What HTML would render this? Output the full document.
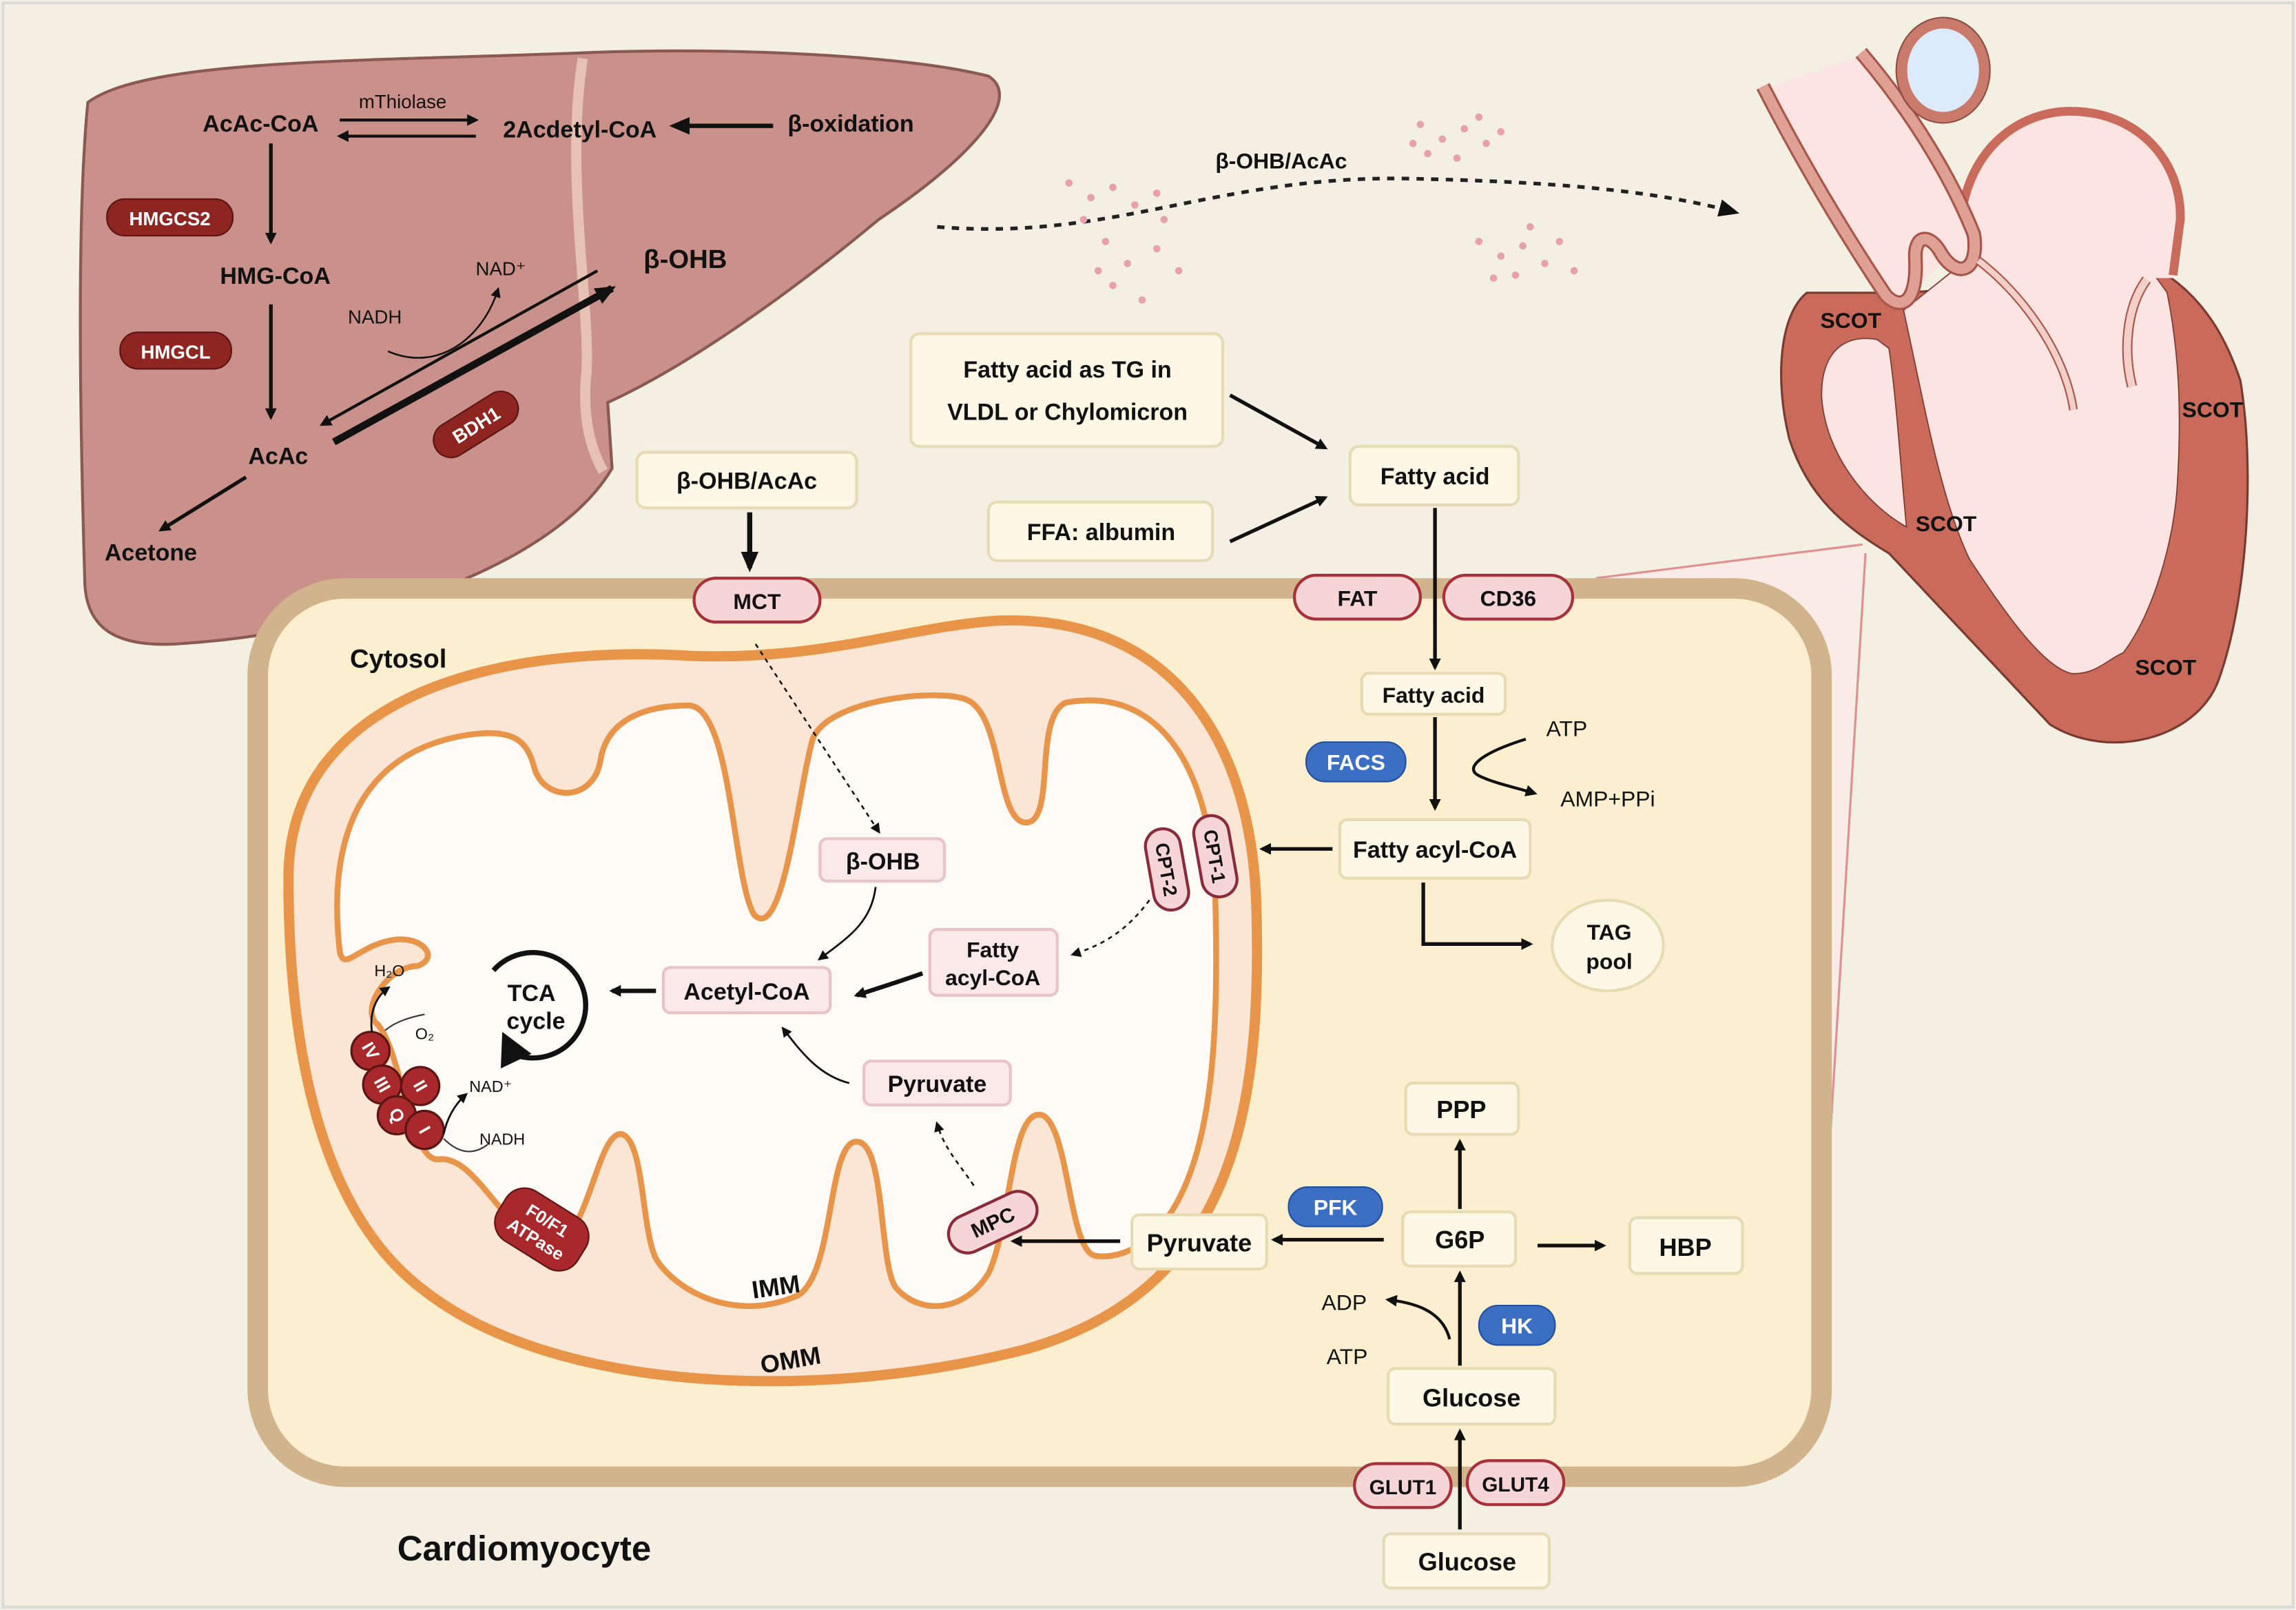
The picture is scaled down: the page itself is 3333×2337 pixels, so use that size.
<!DOCTYPE html>
<html><head><meta charset="utf-8"><style>
html,body{margin:0;padding:0;background:#f3efe3}
svg{display:block}
text{font-family:"Liberation Sans",sans-serif;fill:#111}
.b{font-weight:bold}
</style></head><body>
<svg width="3333" height="2337" viewBox="0 0 1568 1100" preserveAspectRatio="none" xmlns="http://www.w3.org/2000/svg">
<defs>
<marker id="ah" markerWidth="8" markerHeight="8" refX="6" refY="4" orient="auto" markerUnits="userSpaceOnUse"><path d="M0,0 L8,4 L0,8 Z" fill="#111"/></marker>
<marker id="ahL" markerWidth="14" markerHeight="12" refX="11" refY="6" orient="auto" markerUnits="userSpaceOnUse"><path d="M0,0 L14,6 L0,12 Z" fill="#111"/></marker>
<marker id="ahS" markerWidth="7" markerHeight="7" refX="5" refY="3.5" orient="auto" markerUnits="userSpaceOnUse"><path d="M0,0 L7,3.5 L0,7 Z" fill="#111"/></marker>
</defs>
<rect x="0" y="0" width="1568" height="1100" fill="#f3efe3"/>
<rect x="2" y="2" width="1564" height="1096" fill="none" stroke="#dcdcd6" stroke-width="2"/>

<!-- Liver -->
<path d="M60,70 C100,40 250,42 400,36 C500,32 620,38 675,52 C700,68 660,110 600,150 C540,200 470,250 415,275 L418,320 C380,385 250,432 120,440 C80,442 60,430 58,400 C55,300 52,150 60,70 Z" fill="#c9918a" stroke="#8a5a52" stroke-width="2"/>
<path d="M398,40 C385,120 405,220 400,260 C398,290 405,310 412,322" fill="none" stroke="#e6c2b2" stroke-width="7"/>
<text x="178" y="90" class="b" font-size="16" text-anchor="middle">AcAc-CoA</text>
<text x="275" y="74" font-size="13" text-anchor="middle">mThiolase</text>
<text x="396" y="94" class="b" font-size="16" text-anchor="middle">2Acdetyl-CoA</text>
<text x="581" y="90" class="b" font-size="16" text-anchor="middle">β-oxidation</text>
<line x1="232" y1="82" x2="325" y2="82" stroke="#111" stroke-width="2" marker-end="url(#ah)"/>
<line x1="325" y1="93" x2="232" y2="93" stroke="#111" stroke-width="2" marker-end="url(#ah)"/>
<line x1="528" y1="86" x2="460" y2="86" stroke="#111" stroke-width="3" marker-end="url(#ahL)"/>
<rect x="73" y="136" width="86" height="25" rx="12" fill="#8f2520" stroke="#5a1512"/>
<text x="116" y="154" class="b" font-size="13" text-anchor="middle" style="fill:#fff">HMGCS2</text>
<line x1="185" y1="98" x2="185" y2="165" stroke="#111" stroke-width="2.5" marker-end="url(#ah)"/>
<text x="188" y="194" class="b" font-size="16" text-anchor="middle">HMG-CoA</text>
<rect x="82" y="227" width="76" height="25" rx="12" fill="#8f2520" stroke="#5a1512"/>
<text x="120" y="245" class="b" font-size="13" text-anchor="middle" style="fill:#fff">HMGCL</text>
<line x1="185" y1="208" x2="185" y2="285" stroke="#111" stroke-width="2.5" marker-end="url(#ah)"/>
<text x="190" y="317" class="b" font-size="16" text-anchor="middle">AcAc</text>
<line x1="168" y1="326" x2="110" y2="362" stroke="#111" stroke-width="2.5" marker-end="url(#ah)"/>
<text x="103" y="383" class="b" font-size="16" text-anchor="middle">Acetone</text>
<text x="342" y="188" font-size="13" text-anchor="middle">NAD⁺</text>
<text x="256" y="221" font-size="13" text-anchor="middle">NADH</text>
<path d="M265,240 C300,255 330,230 340,198" fill="none" stroke="#111" stroke-width="1.2" marker-end="url(#ahS)"/>
<line x1="408" y1="185" x2="220" y2="290" stroke="#111" stroke-width="2" marker-end="url(#ah)"/>
<line x1="228" y1="302" x2="418" y2="197" stroke="#111" stroke-width="5" marker-end="url(#ahL)"/>
<text x="468" y="183" class="b" font-size="18" text-anchor="middle">β-OHB</text>
<g transform="translate(325,290) rotate(-32)"><rect x="-32" y="-12" width="64" height="24" rx="12" fill="#8f2520" stroke="#5a1512"/><text x="0" y="5" class="b" font-size="13" text-anchor="middle" style="fill:#fff">BDH1</text></g>

<!-- blood dots & dotted arrow -->
<path d="M640,155 C760,165 830,120 960,122 C1060,124 1130,130 1185,145" fill="none" stroke="#222" stroke-width="2.5" stroke-dasharray="5,5" marker-end="url(#ahL)"/>
<g fill="#e8a0ad">
<circle cx="730" cy="125" r="2.5"/><circle cx="745" cy="135" r="2.5"/><circle cx="760" cy="128" r="2.5"/><circle cx="775" cy="140" r="2.5"/><circle cx="790" cy="132" r="2.5"/><circle cx="740" cy="150" r="2.5"/><circle cx="755" cy="165" r="2.5"/><circle cx="770" cy="180" r="2.5"/><circle cx="790" cy="170" r="2.5"/><circle cx="805" cy="185" r="2.5"/><circle cx="760" cy="195" r="2.5"/><circle cx="780" cy="205" r="2.5"/><circle cx="750" cy="185" r="2.5"/><circle cx="795" cy="150" r="2.5"/>
<circle cx="970" cy="85" r="2.5"/><circle cx="985" cy="95" r="2.5"/><circle cx="1000" cy="88" r="2.5"/><circle cx="1015" cy="98" r="2.5"/><circle cx="975" cy="105" r="2.5"/><circle cx="995" cy="108" r="2.5"/><circle cx="1010" cy="80" r="2.5"/><circle cx="1025" cy="90" r="2.5"/><circle cx="965" cy="98" r="2.5"/>
<circle cx="1010" cy="165" r="2.5"/><circle cx="1025" cy="175" r="2.5"/><circle cx="1040" cy="168" r="2.5"/><circle cx="1055" cy="180" r="2.5"/><circle cx="1035" cy="188" r="2.5"/><circle cx="1065" cy="165" r="2.5"/><circle cx="1075" cy="185" r="2.5"/><circle cx="1020" cy="190" r="2.5"/><circle cx="1045" cy="155" r="2.5"/>
</g>
<text x="875" y="115" class="b" font-size="15" text-anchor="middle">β-OHB/AcAc</text>

<!-- zoom triangle -->
<path d="M1090,395 L1272,372 L1248,808 Z" fill="#f9ece6" stroke="none"/>
<line x1="1090" y1="395" x2="1272" y2="372" stroke="#e09090" stroke-width="1.5"/>
<line x1="1248" y1="808" x2="1274" y2="378" stroke="#e09090" stroke-width="1.5"/>

<!-- Heart -->
<path d="M1234,200 C1215,215 1212,260 1222,300 C1235,340 1260,360 1290,378 L1400,495 C1440,520 1500,505 1515,465 C1535,410 1540,320 1530,260 C1520,230 1505,205 1480,188 L1300,200 Z" fill="#c96a5a" stroke="#7a3a30" stroke-width="1.5"/>
<path d="M1300,212 C1315,280 1325,340 1345,382 C1370,420 1395,455 1414,460 C1430,462 1440,450 1450,446 C1470,420 1485,370 1487,330 C1490,280 1488,240 1480,200 L1470,186 L1340,180 Z" fill="#fce4e2" stroke="#7a3a30" stroke-width="0.8"/>
<path d="M1282,232 C1260,228 1244,240 1244,270 C1246,310 1275,345 1302,360 C1298,320 1295,270 1290,238 Z" fill="#fce4e2" stroke="#7a3a30" stroke-width="0.8"/>
<path d="M1339,150 C1345,100 1380,76 1414,76 C1460,76 1490,110 1489,150 L1484,190 L1340,190 Z" fill="#fce4e2"/>
<path d="M1339,150 C1345,100 1380,76 1414,76 C1460,76 1490,110 1489,150 L1484,188" fill="none" stroke="#c96a5a" stroke-width="6"/>
<!-- great vessels -->
<path d="M1210,59 C1235,110 1262,160 1290,200 L1305,205 C1320,180 1330,175 1340,180 C1352,182 1350,160 1345,150 C1325,110 1300,70 1278,36 Z" fill="#fce4e2"/>
<path d="M1204,59 C1230,110 1260,160 1288,202 C1298,212 1310,208 1308,175 C1308,160 1318,160 1325,172 C1335,190 1352,188 1348,160 C1330,115 1300,70 1271,36" fill="none" stroke="#a8564a" stroke-width="10"/>
<path d="M1204,59 C1230,110 1260,160 1288,202 C1298,212 1310,208 1308,175 C1308,160 1318,160 1325,172 C1335,190 1352,188 1348,160 C1330,115 1300,70 1271,36" fill="none" stroke="#e0a093" stroke-width="7"/>
<path d="M1351,178 C1380,200 1410,240 1416,280" fill="none" stroke="#a8564a" stroke-width="6"/>
<path d="M1351,178 C1380,200 1410,240 1416,280" fill="none" stroke="#f4cfc8" stroke-width="4"/>
<path d="M1466,191 C1452,210 1450,240 1456,264" fill="none" stroke="#a8564a" stroke-width="7"/>
<path d="M1466,191 C1452,210 1450,240 1456,264" fill="none" stroke="#f4cfc8" stroke-width="5"/>
<ellipse cx="1327" cy="48" rx="28" ry="32" fill="#dcebfb" stroke="#c97a6a" stroke-width="7"/>
<ellipse cx="1327" cy="48" rx="32" ry="36" fill="none" stroke="#8a4a40" stroke-width="1"/>
<text x="1264" y="224" class="b" font-size="15" text-anchor="middle">SCOT</text>
<text x="1511" y="285" class="b" font-size="15" text-anchor="middle">SCOT</text>
<text x="1329" y="363" class="b" font-size="15" text-anchor="middle">SCOT</text>
<text x="1479" y="461" class="b" font-size="15" text-anchor="middle">SCOT</text>

<!-- Boxes above cell -->
<g fill="#fdf8e6" stroke="#e6dcb4" stroke-width="2">
<rect x="622" y="228" width="213" height="77" rx="6"/>
<rect x="675" y="343" width="153" height="40" rx="6"/>
<rect x="922" y="305" width="115" height="40" rx="6"/>
<rect x="435" y="309" width="150" height="38" rx="6"/>
</g>
<text x="729" y="258" class="b" font-size="16" text-anchor="middle">Fatty  acid  as  TG  in</text>
<text x="729" y="287" class="b" font-size="16" text-anchor="middle">VLDL or Chylomicron</text>
<text x="752" y="369" class="b" font-size="16" text-anchor="middle">FFA: albumin</text>
<text x="980" y="331" class="b" font-size="16" text-anchor="middle">Fatty acid</text>
<text x="510" y="334" class="b" font-size="16" text-anchor="middle">β-OHB/AcAc</text>
<line x1="840" y1="270" x2="905" y2="306" stroke="#111" stroke-width="2.5" marker-end="url(#ah)"/>
<line x1="840" y1="370" x2="905" y2="340" stroke="#111" stroke-width="2.5" marker-end="url(#ah)"/>
<line x1="512" y1="350" x2="512" y2="388" stroke="#111" stroke-width="3.5" marker-end="url(#ahL)"/>

<!-- Cell -->
<rect x="176" y="402" width="1068" height="607" rx="60" fill="#fcefd0" stroke="#d2b48c" stroke-width="14"/>
<text x="272" y="456" class="b" font-size="18" text-anchor="middle">Cytosol</text>
<text x="358" y="1066" class="b" font-size="24" text-anchor="middle">Cardiomyocyte</text>

<!-- Mitochondrion -->
<path d="M197,600 C197,480 330,440 470,448 C560,452 620,428 682,424 C795,420 855,500 858,620 C862,760 842,882 700,922 C560,958 380,952 290,882 C220,830 197,720 197,600 Z" fill="#fbe6d6" stroke="#e8954a" stroke-width="7"/>
<path d="M232,650 C222,560 255,512 320,502 C350,498 360,505 365,525 C372,548 405,548 410,520 C414,492 440,482 470,482 C500,482 500,600 515,625 C535,645 545,540 555,505 C565,478 640,470 660,478 C685,488 680,560 700,562 C722,563 705,490 728,480 C795,468 828,530 830,615 C832,700 830,790 795,835 C780,855 760,860 748,858 C730,855 730,770 712,762 C690,755 690,840 675,870 C660,895 630,900 612,880 C600,865 605,780 585,780 C565,780 570,870 545,885 C500,905 460,880 448,860 C438,840 440,780 425,775 C405,770 400,880 360,845 C335,822 320,790 300,792 C280,795 275,720 258,700 C245,690 265,660 285,660 C300,655 290,640 270,642 C245,645 235,665 232,650 Z" fill="#fefaf6" stroke="#e8954a" stroke-width="4"/>

<!-- Mito contents -->
<line x1="516" y1="440" x2="600" y2="568" stroke="#111" stroke-width="1.2" stroke-dasharray="3,3" marker-end="url(#ahS)"/>
<g fill="#fbe8e8" stroke="#e8c4c4" stroke-width="2">
<rect x="560" y="573" width="85" height="29" rx="5"/>
<rect x="453" y="661" width="114" height="31" rx="5"/>
<rect x="635" y="635" width="87" height="45" rx="5"/>
<rect x="590" y="725" width="100" height="30" rx="5"/>
</g>
<text x="603" y="594" class="b" font-size="16" text-anchor="middle">β-OHB</text>
<text x="510" y="683" class="b" font-size="16" text-anchor="middle">Acetyl-CoA</text>
<text x="678" y="654" class="b" font-size="15" text-anchor="middle">Fatty</text>
<text x="678" y="673" class="b" font-size="15" text-anchor="middle">acyl-CoA</text>
<text x="640" y="746" class="b" font-size="16" text-anchor="middle">Pyruvate</text>
<path d="M598,606 C595,630 580,640 560,655" fill="none" stroke="#111" stroke-width="1.3" marker-end="url(#ahS)"/>
<path d="M630,665 C610,672 600,675 585,680" fill="none" stroke="#111" stroke-width="3" marker-end="url(#ah)"/>
<path d="M580,740 C560,735 548,720 535,703" fill="none" stroke="#111" stroke-width="1.3" marker-end="url(#ahS)"/>
<path d="M785,615 C770,635 755,645 733,652" fill="none" stroke="#111" stroke-width="1.2" stroke-dasharray="3,3" marker-end="url(#ahS)"/>
<path d="M665,810 C655,795 645,785 640,768" fill="none" stroke="#111" stroke-width="1.2" stroke-dasharray="3,3" marker-end="url(#ahS)"/>
<line x1="448" y1="677" x2="418" y2="677" stroke="#111" stroke-width="3" marker-end="url(#ah)"/>
<path d="M337,663 A36,36 0 1 1 350,720" fill="none" stroke="#111" stroke-width="3.5"/>
<path d="M343,705 L342,730 L363,720 Z" fill="#111"/>
<text x="363" y="684" class="b" font-size="16" text-anchor="middle">TCA</text>
<text x="366" y="703" class="b" font-size="16" text-anchor="middle">cycle</text>
<!-- ETC -->
<g fill="#a8282c" stroke="#5a1512" stroke-width="1.5">
<circle cx="253" cy="718" r="13"/><circle cx="261" cy="741" r="13"/><circle cx="287" cy="742" r="13"/><circle cx="271" cy="762" r="13"/><circle cx="290" cy="772" r="13"/>
</g>
<g font-size="12" class="b" text-anchor="middle">
<text x="253" y="722" style="fill:#fff" transform="rotate(60 253 718)">IV</text>
<text x="261" y="745" style="fill:#fff" transform="rotate(60 261 741)">III</text>
<text x="287" y="746" style="fill:#fff" transform="rotate(60 287 742)">II</text>
<text x="271" y="766" style="fill:#fff" transform="rotate(60 271 762)">Q</text>
<text x="290" y="776" style="fill:#fff" transform="rotate(60 290 772)">I</text>
</g>
<text x="266" y="667" font-size="11" text-anchor="middle">H₂O</text>
<text x="290" y="710" font-size="11" text-anchor="middle">O₂</text>
<text x="335" y="746" font-size="11" text-anchor="middle">NAD⁺</text>
<text x="343" y="782" font-size="11" text-anchor="middle">NADH</text>
<path d="M254,705 C252,690 258,680 265,675" fill="none" stroke="#111" stroke-width="1.3" marker-end="url(#ahS)"/>
<path d="M263,704 C270,698 280,695 290,693" fill="none" stroke="#333" stroke-width="1"/>
<path d="M303,775 C305,765 310,755 318,748" fill="none" stroke="#111" stroke-width="1.3" marker-end="url(#ahS)"/>
<path d="M303,778 C315,790 325,788 333,782" fill="none" stroke="#333" stroke-width="1"/>
<g transform="translate(370,840) rotate(32)"><rect x="-32" y="-20" width="64" height="40" rx="15" fill="#a8282c" stroke="#5a1512"/><text x="0" y="-3" class="b" font-size="12" text-anchor="middle" style="fill:#fff">F0/F1</text><text x="0" y="12" class="b" font-size="12" text-anchor="middle" style="fill:#fff">ATPase</text></g>
<g transform="translate(678,835) rotate(-25)"><rect x="-32" y="-13" width="64" height="26" rx="13" fill="#f5d5d5" stroke="#8a2a3a" stroke-width="2"/><text x="0" y="5" class="b" font-size="14" text-anchor="middle">MPC</text></g>
<g transform="translate(797,594) rotate(80)"><rect x="-28" y="-12" width="56" height="24" rx="12" fill="#f5d5d5" stroke="#8a2a3a" stroke-width="2"/><text x="0" y="5" class="b" font-size="13" text-anchor="middle">CPT-2</text></g>
<g transform="translate(830,585) rotate(80)"><rect x="-28" y="-12" width="56" height="24" rx="12" fill="#f5d5d5" stroke="#8a2a3a" stroke-width="2"/><text x="0" y="5" class="b" font-size="13" text-anchor="middle">CPT-1</text></g>
<text x="530" y="885" class="b" font-size="17" text-anchor="middle" transform="rotate(-8 530 880)">IMM</text>
<text x="540" y="935" class="b" font-size="17" text-anchor="middle" transform="rotate(-10 540 930)">OMM</text>

<!-- Membrane transporters -->
<g fill="#f5d5d5" stroke="#a8303a" stroke-width="2">
<rect x="474" y="395" width="86" height="30" rx="15"/>
<rect x="884" y="393" width="86" height="30" rx="15"/>
<rect x="986" y="393" width="88" height="30" rx="15"/>
<rect x="925" y="1000" width="66" height="30" rx="15"/>
<rect x="1002" y="998" width="66" height="30" rx="15"/>
</g>
<text x="517" y="416" class="b" font-size="15" text-anchor="middle">MCT</text>
<text x="927" y="414" class="b" font-size="15" text-anchor="middle">FAT</text>
<text x="1030" y="414" class="b" font-size="15" text-anchor="middle">CD36</text>
<text x="958" y="1021" class="b" font-size="14" text-anchor="middle">GLUT1</text>
<text x="1035" y="1019" class="b" font-size="14" text-anchor="middle">GLUT4</text>

<!-- Cytosol right -->
<line x1="980" y1="347" x2="980" y2="456" stroke="#111" stroke-width="2.5" marker-end="url(#ah)"/>
<g fill="#fdf8e6" stroke="#e6dcb4" stroke-width="2">
<rect x="930" y="460" width="98" height="28" rx="5"/>
<rect x="915" y="560" width="130" height="40" rx="5"/>
<rect x="960" y="740" width="77" height="35" rx="5"/>
<rect x="958" y="828" width="77" height="37" rx="5"/>
<rect x="1113" y="832" width="77" height="38" rx="5"/>
<rect x="773" y="830" width="92" height="37" rx="5"/>
<rect x="948" y="935" width="114" height="38" rx="5"/>
<rect x="945" y="1048" width="113" height="37" rx="5"/>
<ellipse cx="1098" cy="646" rx="38" ry="31"/>
</g>
<text x="979" y="480" class="b" font-size="15" text-anchor="middle">Fatty acid</text>
<text x="980" y="586" class="b" font-size="16" text-anchor="middle">Fatty acyl-CoA</text>
<text x="998" y="764" class="b" font-size="17" text-anchor="middle">PPP</text>
<text x="997" y="853" class="b" font-size="17" text-anchor="middle">G6P</text>
<text x="1151" y="858" class="b" font-size="17" text-anchor="middle">HBP</text>
<text x="819" y="855" class="b" font-size="17" text-anchor="middle">Pyruvate</text>
<text x="1005" y="961" class="b" font-size="17" text-anchor="middle">Glucose</text>
<text x="1002" y="1073" class="b" font-size="17" text-anchor="middle">Glucose</text>
<text x="1099" y="642" class="b" font-size="15" text-anchor="middle">TAG</text>
<text x="1099" y="662" class="b" font-size="15" text-anchor="middle">pool</text>
<rect x="892" y="507" width="68" height="27" rx="13" fill="#3b6fc4" stroke="#24509a"/>
<text x="926" y="526" class="b" font-size="15" text-anchor="middle" style="fill:#fff">FACS</text>
<rect x="880" y="811" width="64" height="27" rx="13" fill="#3b6fc4" stroke="#24509a"/>
<text x="912" y="830" class="b" font-size="15" text-anchor="middle" style="fill:#fff">PFK</text>
<rect x="1010" y="892" width="52" height="27" rx="13" fill="#3b6fc4" stroke="#24509a"/>
<text x="1036" y="911" class="b" font-size="15" text-anchor="middle" style="fill:#fff">HK</text>
<text x="1070" y="503" font-size="15" text-anchor="middle">ATP</text>
<text x="1098" y="551" font-size="15" text-anchor="middle">AMP+PPi</text>
<path d="M1042,505 C1010,515 1000,525 1010,530 C1020,535 1035,538 1048,542" fill="none" stroke="#111" stroke-width="2" marker-end="url(#ah)"/>
<line x1="980" y1="490" x2="980" y2="552" stroke="#111" stroke-width="2.5" marker-end="url(#ah)"/>
<line x1="910" y1="580" x2="862" y2="580" stroke="#111" stroke-width="2.5" marker-end="url(#ah)"/>
<path d="M972,603 L972,645 L1045,645" fill="none" stroke="#111" stroke-width="2.5" marker-end="url(#ah)"/>
<line x1="997" y1="826" x2="997" y2="780" stroke="#111" stroke-width="2.5" marker-end="url(#ah)"/>
<line x1="945" y1="847" x2="870" y2="847" stroke="#111" stroke-width="2.5" marker-end="url(#ah)"/>
<line x1="1050" y1="851" x2="1095" y2="851" stroke="#111" stroke-width="2.5" marker-end="url(#ah)"/>
<line x1="997" y1="933" x2="997" y2="870" stroke="#111" stroke-width="2.5" marker-end="url(#ah)"/>
<line x1="997" y1="1045" x2="997" y2="978" stroke="#111" stroke-width="2.5" marker-end="url(#ah)"/>
<line x1="765" y1="848" x2="692" y2="848" stroke="#111" stroke-width="2.5" marker-end="url(#ah)"/>
<text x="918" y="895" font-size="15" text-anchor="middle">ADP</text>
<text x="920" y="932" font-size="15" text-anchor="middle">ATP</text>
<path d="M990,915 C985,895 965,890 948,888" fill="none" stroke="#111" stroke-width="2" marker-end="url(#ah)"/>
</svg>
</body></html>
